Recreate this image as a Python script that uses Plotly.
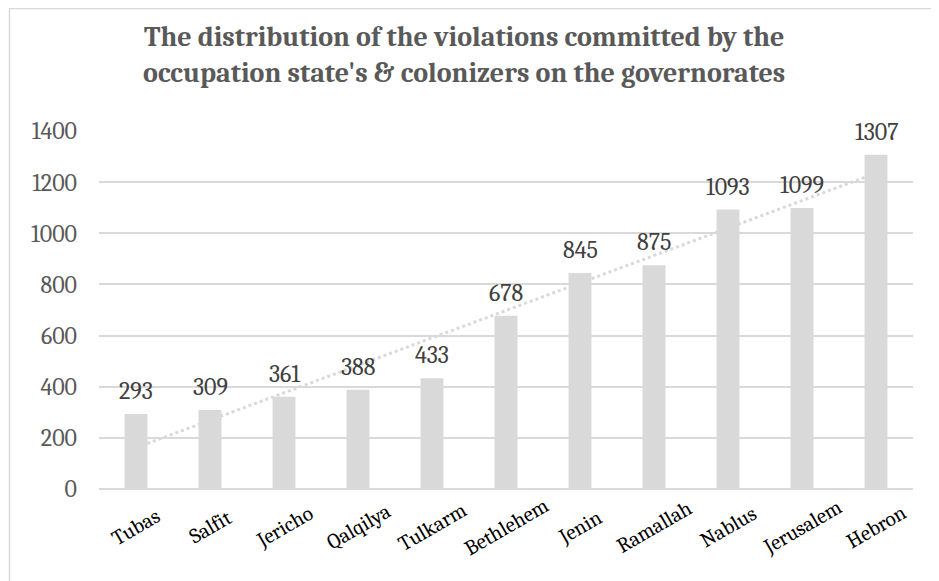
import numpy as np
import plotly.graph_objects as go

categories = ["Tubas", "Salfit", "Jericho", "Qalqilya", "Tulkarm", "Bethlehem",
              "Jenin", "Ramallah", "Nablus", "Jerusalem", "Hebron"]
values = [293, 309, 361, 388, 433, 678, 845, 875, 1093, 1099, 1307]
y_ticks = [0, 200, 400, 600, 800, 1000, 1200, 1400]

title_text = ("The distribution of the violations committed by the<br>"
              "occupation state's &amp; colonizers on the governorates")

# linear trendline (as in the source chart)
xi = np.arange(len(values))
slope, intercept = np.polyfit(xi, values, 1)
trend = slope * xi + intercept

SERIF = "Cambria, Caladea, 'Liberation Serif', serif"

W, H = 931, 573
L, R, T, B = 91, 26, 123, 92
plot_w = W - L - R
plot_h = H - T - B

fig = go.Figure()
fig.add_trace(go.Bar(
    x=categories, y=values, marker_color="#d9d9d9", width=0.31,
    marker_line_width=0, showlegend=False, hoverinfo="skip"))
fig.add_trace(go.Scatter(
    x=categories, y=trend, mode="lines",
    line=dict(color="#d9d9d9", width=3, dash="dot"),
    showlegend=False, hoverinfo="skip"))

# data labels
for c, v in zip(categories, values):
    fig.add_annotation(x=c, y=v, text=str(v), showarrow=False,
                       yanchor="middle", yshift=23,
                       font=dict(family=SERIF, size=24, color="#404040"))

# rotated category labels, centred on each category like the source
for c in categories:
    fig.add_annotation(x=c, y=0, yref="y", text=c, showarrow=False,
                       textangle=-30, xanchor="center", yanchor="middle",
                       yshift=-38,
                       font=dict(family=SERIF, size=21, color="#000000"))

# chart-area border
fig.add_shape(type="rect", xref="paper", yref="paper",
              x0=(1.5 - L) / plot_w, x1=1.5,
              y0=-0.5, y1=(plot_h + T - 0.5) / plot_h,
              line=dict(color="#d9d9d9", width=1.5), fillcolor="rgba(0,0,0,0)",
              layer="below")

fig.update_layout(
    width=W, height=H,
    margin=dict(l=L, r=R, t=T, b=B),
    paper_bgcolor="white", plot_bgcolor="white",
    title=dict(text=title_text, x=0.49, xref="container", xanchor="center",
               y=1 - 38 / H, yref="container", yanchor="top",
               font=dict(family=SERIF, size=28, color="#595959", weight="bold")),
    xaxis=dict(showgrid=False, showline=False, ticks="", showticklabels=False),
    yaxis=dict(range=[0, 1400], tickvals=y_ticks, showgrid=True,
               gridcolor="#d9d9d9", gridwidth=1.5, zeroline=True,
               zerolinecolor="#d9d9d9", zerolinewidth=1.5, showline=False,
               tickfont=dict(family=SERIF, size=24, color="#595959"),
               ticklabelstandoff=21),
    bargap=0.69,
)

fig.write_html("out.html")
